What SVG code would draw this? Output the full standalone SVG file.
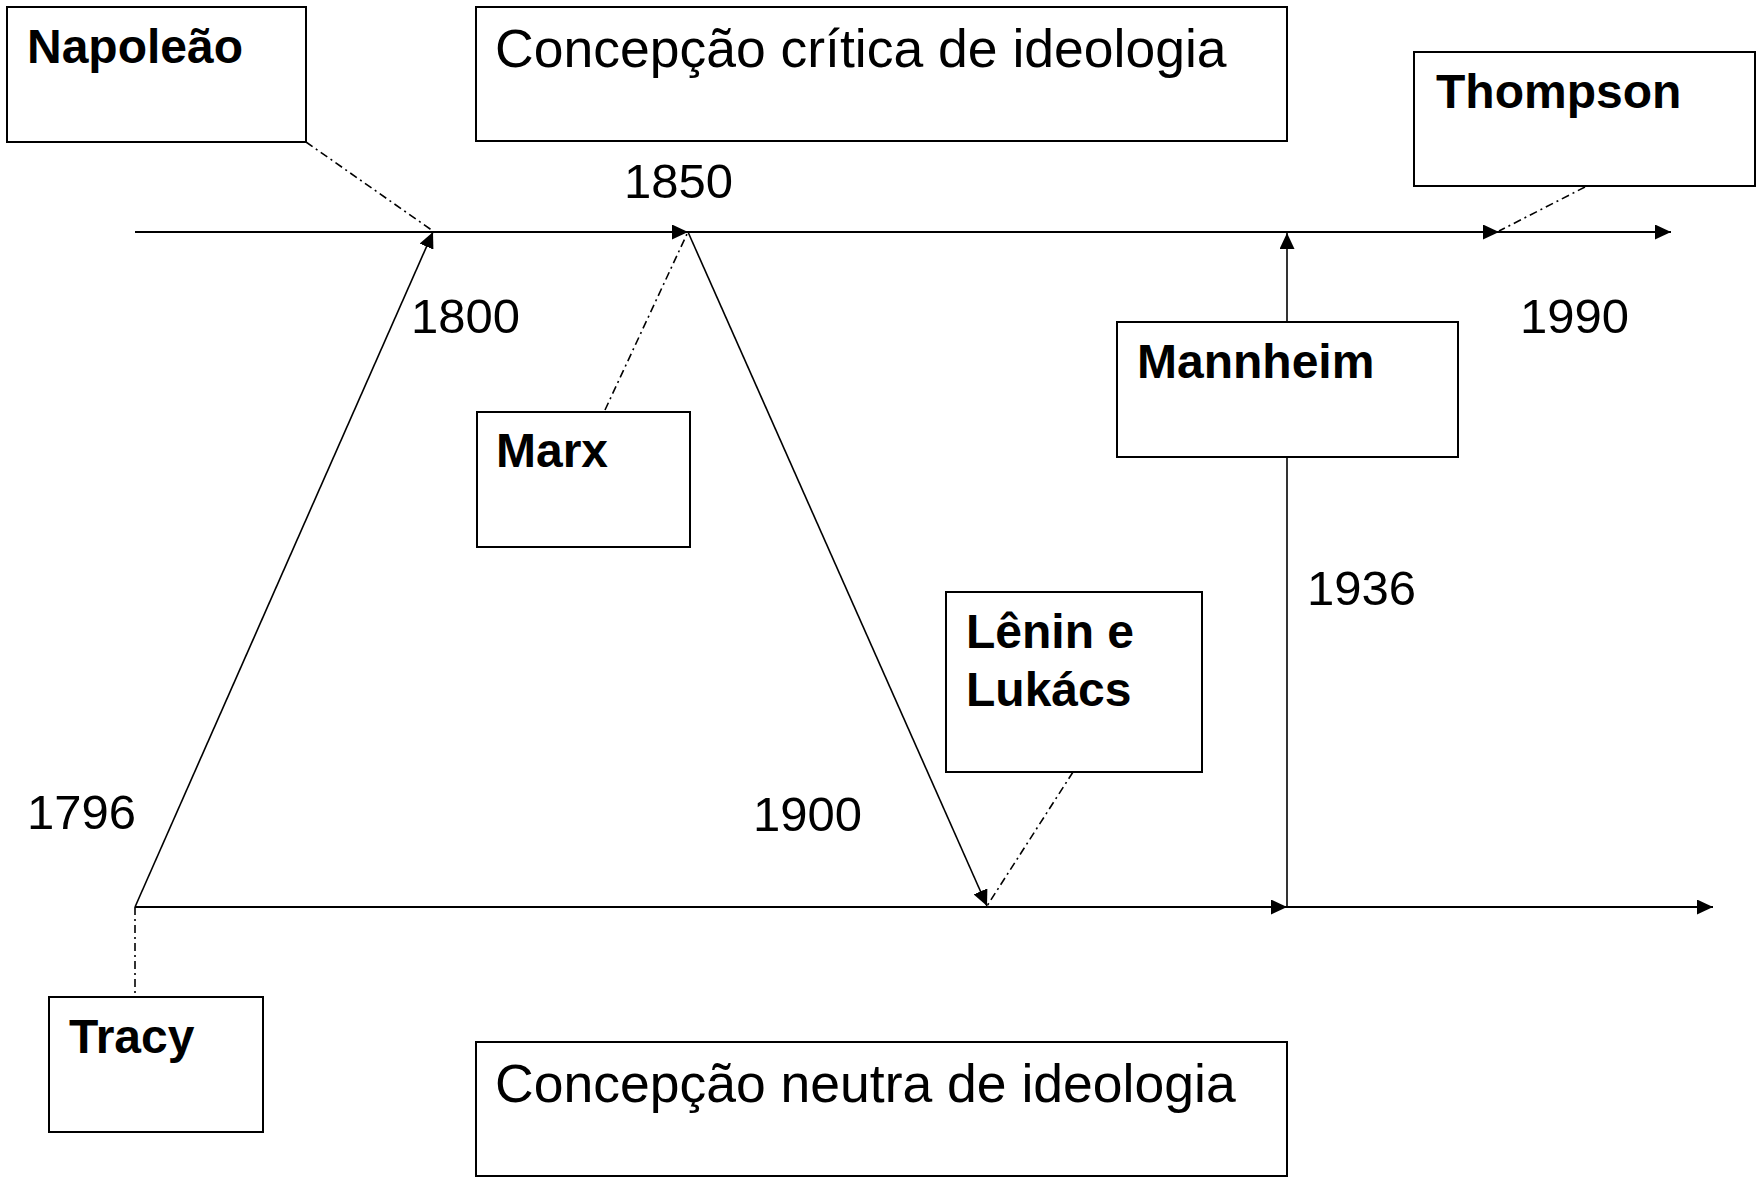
<svg xmlns="http://www.w3.org/2000/svg" width="1756" height="1177" viewBox="0 0 1756 1177">
<defs>
<style>
.box{fill:#fff;stroke:#000;stroke-width:2}
.ln{fill:none;stroke:#000;stroke-width:2}
.dg{fill:none;stroke:#000;stroke-width:1.6}
.dd{fill:none;stroke:#000;stroke-width:1.6;stroke-dasharray:8 4 2 4}
.b{font-family:"Liberation Sans",Arial,sans-serif;font-weight:bold;font-size:48px;fill:#000}
.n{font-family:"Liberation Sans",Arial,sans-serif;font-size:49px;fill:#000}
.t{font-family:"Liberation Sans",Arial,sans-serif;font-size:53.5px;fill:#000}
</style>
<marker id="ah" markerUnits="userSpaceOnUse" markerWidth="17" markerHeight="15" refX="16" refY="7.5" orient="auto">
<path d="M0,0 L16,7.5 L0,15 z" fill="#000"/>
</marker>
</defs>
<rect width="1756" height="1177" fill="#fff"/>
<g id="connectors">
<line class="ln" x1="135" y1="232" x2="688" y2="232" marker-end="url(#ah)"/>
<line class="ln" x1="688" y1="232" x2="1499" y2="232" marker-end="url(#ah)"/>
<line class="ln" x1="1499" y1="232" x2="1671" y2="232" marker-end="url(#ah)"/>
<line class="ln" x1="135" y1="907" x2="1287" y2="907" marker-end="url(#ah)"/>
<line class="ln" x1="1287" y1="907" x2="1713" y2="907" marker-end="url(#ah)"/>
<line class="dg" x1="135" y1="907" x2="433" y2="232" marker-end="url(#ah)"/>
<line class="dg" x1="688" y1="232" x2="987" y2="906" marker-end="url(#ah)"/>
<line class="dg" x1="1287" y1="907" x2="1287" y2="233" marker-end="url(#ah)"/>
<line class="dd" x1="306" y1="142" x2="433" y2="231"/>
<line class="dd" x1="605" y1="410" x2="687" y2="234"/>
<line class="dd" x1="1585" y1="187" x2="1499" y2="231"/>
<line class="dd" x1="1073" y1="772" x2="987" y2="906"/>
<line class="dd" x1="135" y1="907" x2="135" y2="996"/>
</g>
<g id="napoleao"><rect class="box" x="7" y="7" width="299" height="135"/><text class="b" x="27" y="63">Napoleão</text></g>
<g id="critica"><rect class="box" x="476" y="7" width="811" height="134"/><text class="t" x="495" y="67">Concepção crítica de ideologia</text></g>
<g id="thompson"><rect class="box" x="1414" y="52" width="341" height="134"/><text class="b" x="1436" y="108">Thompson</text></g>
<g id="mannheim"><rect class="box" x="1117" y="322" width="341" height="135"/><text class="b" x="1137" y="378">Mannheim</text></g>
<g id="marx"><rect class="box" x="477" y="412" width="213" height="135"/><text class="b" x="496" y="467">Marx</text></g>
<g id="lenin"><rect class="box" x="946" y="592" width="256" height="180"/><text class="b" x="966" y="648">Lênin e</text><text class="b" x="966" y="706">Lukács</text></g>
<g id="tracy"><rect class="box" x="49" y="997" width="214" height="135"/><text class="b" x="69" y="1053">Tracy</text></g>
<g id="neutra"><rect class="box" x="476" y="1042" width="811" height="134"/><text class="t" x="495" y="1102">Concepção neutra de ideologia</text></g>
<g id="years">
<text class="n" x="624" y="198">1850</text>
<text class="n" x="411" y="333">1800</text>
<text class="n" x="1520" y="333">1990</text>
<text class="n" x="1307" y="605">1936</text>
<text class="n" x="27" y="829">1796</text>
<text class="n" x="753" y="831">1900</text>
</g>
</svg>
